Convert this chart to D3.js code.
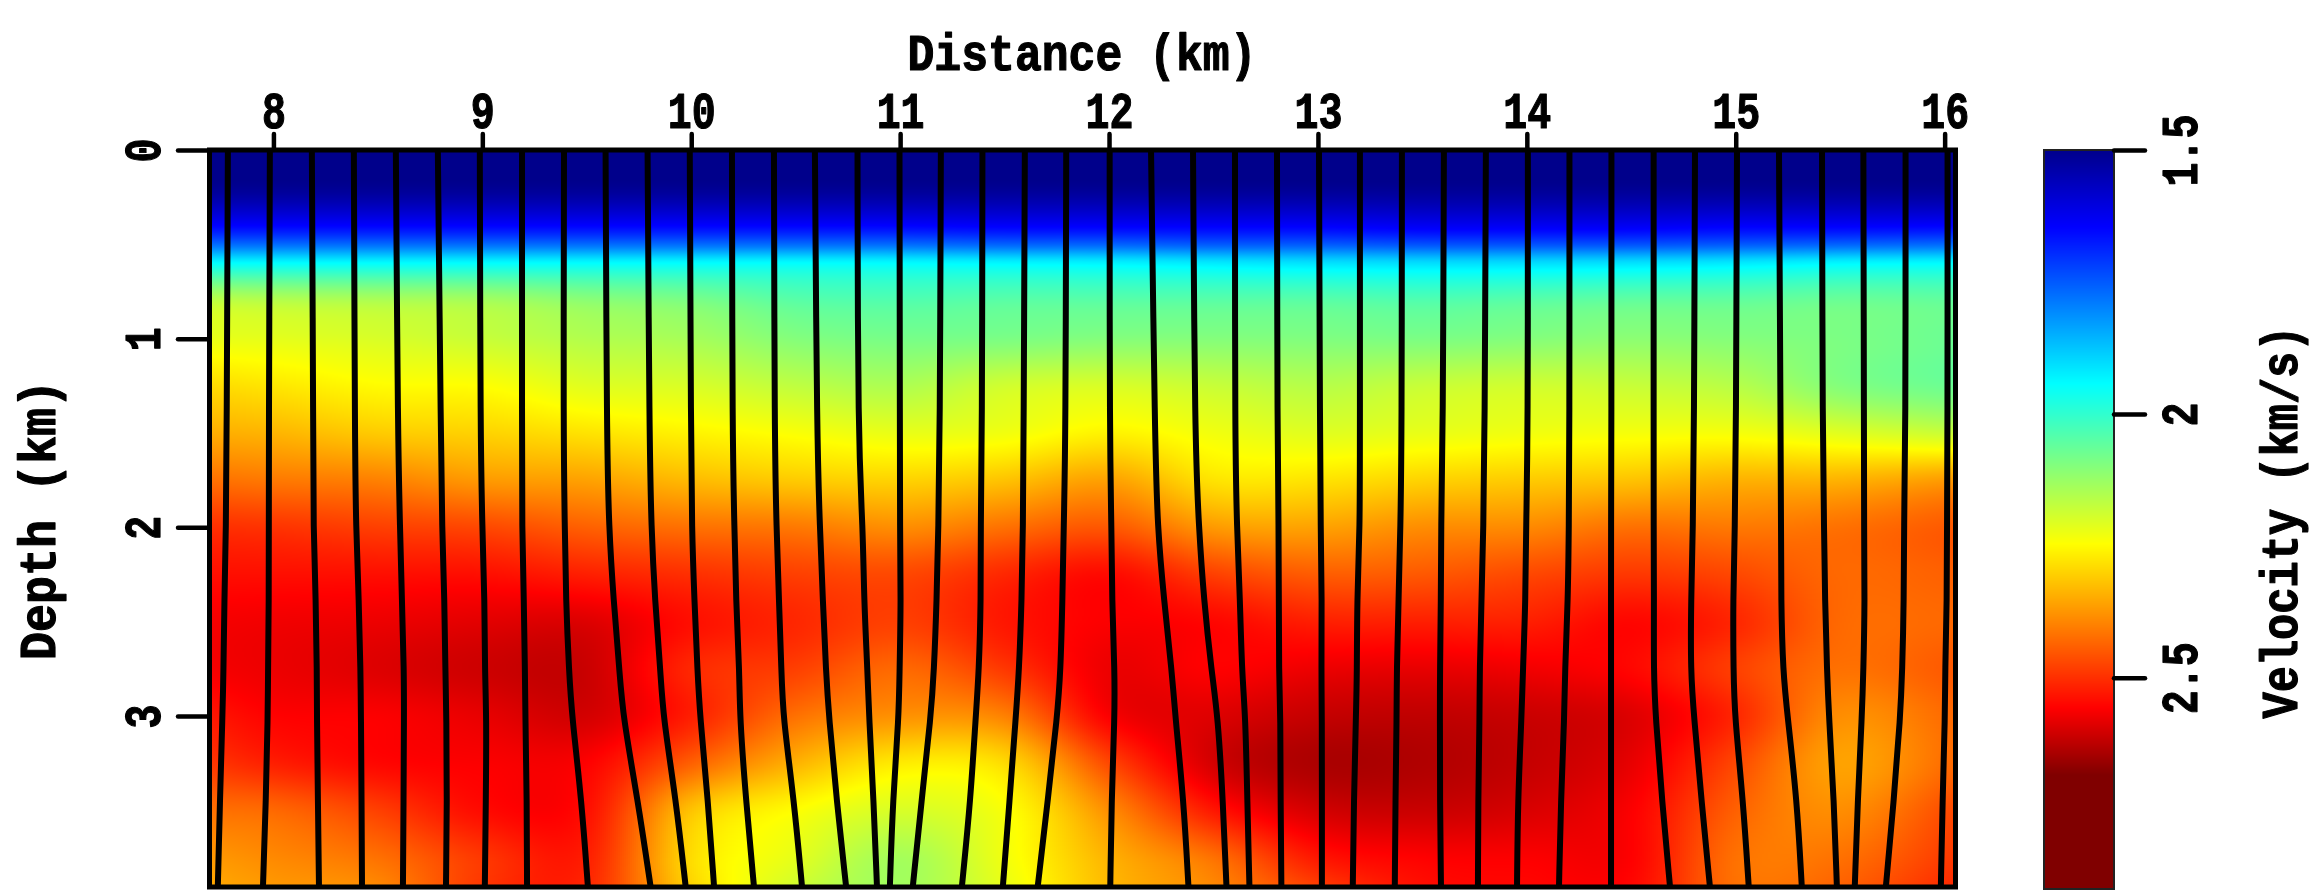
<!DOCTYPE html>
<html>
<head>
<meta charset="utf-8">
<script src="https://cdn.jsdelivr.net/npm/d3@7"></script>
<style>
  html, body { margin: 0; padding: 0; background: #fff; overflow: hidden; }
  #wrap { position: relative; width: 2324px; height: 892px; }
  canvas, svg { position: absolute; left: 0; top: 0; }
  text { font-family: "Liberation Mono", monospace; font-weight: bold; fill: #000; stroke: #000; stroke-width: 1.2; stroke-linejoin: round; }
</style>
</head>
<body>
<div id="wrap">
  <canvas id="heat" width="2324" height="892"></canvas>
  <svg id="chart" width="2324" height="892"></svg>
</div>
<script>
const xTicks = [8, 9, 10, 11, 12, 13, 14, 15, 16];
const depthTicks = [0, 1, 2, 3];
const velocityTicks = [1.5, 2, 2.5];

// colour bar stops, km/s
const colorValues = [1.5, 1.646, 1.943, 2.246, 2.557, 2.684, 2.9];
const colorStops = ["#00008b", "#0000ff", "#00ffff", "#ffff00", "#ff0000", "#800000", "#800000"];

// velocity model
const gridX = [7.694, 8, 8.5, 9, 9.5, 10, 10.5, 11, 11.5, 12, 12.5, 13, 13.5, 14, 14.5, 15, 15.5, 16.052];
const gridZ = [0, 0.2, 0.4, 0.5, 0.6, 0.8, 1, 1.25, 1.5, 1.75, 2, 2.25, 2.5, 2.75, 3, 3.25, 3.5, 3.75, 3.906];
const v00 = [1.5, 1.5, 1.5, 1.5, 1.5, 1.5, 1.5, 1.5, 1.5, 1.5, 1.5, 1.5, 1.5, 1.5, 1.5, 1.5, 1.5, 1.5];
const v02 = [1.51, 1.51, 1.51, 1.51, 1.51, 1.51, 1.51, 1.51, 1.51, 1.51, 1.51, 1.51, 1.51, 1.51, 1.51, 1.51, 1.51, 1.51];
const v04 = [1.646, 1.646, 1.646, 1.646, 1.646, 1.646, 1.646, 1.646, 1.64, 1.64, 1.64, 1.64, 1.63, 1.63, 1.63, 1.64, 1.64, 1.646];
const v05 = [1.77, 1.77, 1.77, 1.77, 1.77, 1.77, 1.77, 1.77, 1.76, 1.76, 1.75, 1.75, 1.74, 1.74, 1.74, 1.75, 1.76, 1.77];
const v06 = [1.943, 1.943, 1.943, 1.943, 1.943, 1.943, 1.943, 1.94, 1.935, 1.93, 1.92, 1.91, 1.905, 1.905, 1.91, 1.92, 1.935, 1.94];
const v08 = [2.17, 2.16, 2.15, 2.14, 2.11, 2.09, 2.05, 2.04, 2.05, 2.05, 2.05, 2.05, 2.04, 2.05, 2.06, 2.06, 2.07, 2.06];
const v10 = [2.22, 2.215, 2.2, 2.18, 2.155, 2.14, 2.1, 2.085, 2.09, 2.1, 2.1, 2.095, 2.09, 2.1, 2.11, 2.1, 2.09, 2.07];
const v125 = [2.29, 2.276, 2.25, 2.245, 2.21, 2.2, 2.17, 2.15, 2.19, 2.2, 2.18, 2.16, 2.18, 2.19, 2.18, 2.16, 2.1, 2.07];
const v15 = [2.345, 2.337, 2.31, 2.3, 2.28, 2.26, 2.24, 2.22, 2.23, 2.26, 2.23, 2.21, 2.22, 2.23, 2.235, 2.235, 2.21, 2.18];
const v175 = [2.42, 2.41, 2.4, 2.37, 2.36, 2.33, 2.31, 2.3, 2.32, 2.36, 2.28, 2.28, 2.3, 2.31, 2.32, 2.34, 2.34, 2.37];
const v20 = [2.5, 2.495, 2.48, 2.47, 2.44, 2.42, 2.41, 2.385, 2.42, 2.45, 2.37, 2.36, 2.385, 2.39, 2.42, 2.41, 2.42, 2.45];
const v225 = [2.54, 2.54, 2.54, 2.54, 2.52, 2.5, 2.48, 2.47, 2.51, 2.545, 2.48, 2.445, 2.45, 2.47, 2.49, 2.47, 2.43, 2.44];
const v25 = [2.565, 2.57, 2.575, 2.585, 2.59, 2.54, 2.51, 2.48, 2.53, 2.56, 2.55, 2.52, 2.52, 2.52, 2.55, 2.51, 2.43, 2.43];
const v275 = [2.565, 2.575, 2.59, 2.607, 2.61, 2.51, 2.48, 2.43, 2.49, 2.575, 2.557, 2.575, 2.58, 2.57, 2.55, 2.48, 2.42, 2.45];
const v30 = [2.53, 2.555, 2.56, 2.58, 2.6, 2.52, 2.42, 2.38, 2.4, 2.56, 2.59, 2.615, 2.62, 2.61, 2.59, 2.51, 2.385, 2.43];
const v325 = [2.49, 2.52, 2.55, 2.56, 2.557, 2.44, 2.34, 2.27, 2.29, 2.47, 2.6, 2.64, 2.635, 2.615, 2.58, 2.47, 2.36, 2.43];
const v35 = [2.42, 2.43, 2.48, 2.545, 2.54, 2.32, 2.246, 2.2, 2.24, 2.385, 2.53, 2.6, 2.61, 2.595, 2.56, 2.44, 2.385, 2.47];
const v375 = [2.37, 2.39, 2.42, 2.49, 2.52, 2.29, 2.215, 2.14, 2.23, 2.34, 2.42, 2.53, 2.557, 2.56, 2.557, 2.42, 2.42, 2.49];
const v39 = [2.35, 2.37, 2.39, 2.49, 2.51, 2.3, 2.19, 2.135, 2.22, 2.33, 2.39, 2.48, 2.54, 2.55, 2.55, 2.42, 2.44, 2.51];
const velocityRows = [v00, v02, v04, v05, v06, v08, v10, v125, v15, v175, v20, v225, v25, v275, v30, v325, v35, v375, v39];

// image ray positions (km) at each depth
const rayDepths = [0, 1.547, 2, 2.385, 2.766, 3, 3.445, 3.9];
const rayX0 = [7.782, 7.983, 8.184, 8.385, 8.586, 8.787, 8.988, 9.19, 9.391, 9.59, 9.791, 9.993, 10.195, 10.396, 10.592, 10.796, 10.997, 11.195, 11.394, 11.597, 11.795, 12.003, 12.201, 12.402, 12.603, 12.804, 13.005, 13.201, 13.402, 13.603, 13.804, 14.005, 14.204, 14.405, 14.607, 14.805, 15.006, 15.207, 15.413, 15.611, 15.813, 16.014];
const rayX1 = [7.776, 7.978, 8.191, 8.39, 8.596, 8.802, 8.991, 9.19, 9.388, 9.596, 9.8, 9.999, 10.197, 10.399, 10.602, 10.798, 10.999, 11.19, 11.392, 11.591, 11.792, 12.003, 12.22, 12.411, 12.603, 12.806, 13.01, 13.201, 13.401, 13.598, 13.798, 14.005, 14.204, 14.405, 14.607, 14.8, 15.001, 15.215, 15.416, 15.614, 15.813, 16.014];
const rayX2 = [7.773, 7.978, 8.191, 8.395, 8.606, 8.807, 9, 9.19, 9.395, 9.606, 9.809, 10.003, 10.207, 10.408, 10.616, 10.822, 10.999, 11.183, 11.385, 11.588, 11.783, 12.012, 12.232, 12.43, 12.612, 12.812, 13.013, 13.201, 13.395, 13.589, 13.792, 13.996, 14.201, 14.403, 14.607, 14.795, 14.996, 15.217, 15.423, 15.614, 15.805, 16.011];
const rayX3 = [7.765, 7.978, 8.203, 8.409, 8.615, 8.819, 9.011, 9.199, 9.4, 9.628, 9.826, 10.015, 10.214, 10.42, 10.63, 10.827, 11.004, 11.175, 11.387, 11.582, 11.777, 12.014, 12.263, 12.454, 12.627, 12.813, 13.019, 13.187, 13.386, 13.589, 13.783, 13.994, 14.197, 14.403, 14.609, 14.786, 14.987, 15.217, 15.427, 15.618, 15.805, 16.011];
const rayX4 = [7.761, 7.974, 8.208, 8.417, 8.625, 8.823, 9.012, 9.204, 9.415, 9.657, 9.853, 10.03, 10.231, 10.432, 10.645, 10.844, 10.997, 11.162, 11.377, 11.569, 11.768, 12.027, 12.301, 12.491, 12.636, 12.813, 13.016, 13.187, 13.377, 13.584, 13.774, 13.981, 14.182, 14.403, 14.607, 14.784, 14.989, 15.226, 15.437, 15.611, 15.797, 16.002];
const rayX5 = [7.756, 7.973, 8.208, 8.419, 8.625, 8.828, 9.02, 9.206, 9.429, 9.673, 9.865, 10.042, 10.232, 10.439, 10.659, 10.851, 10.994, 11.147, 11.362, 11.554, 11.752, 12.027, 12.317, 12.521, 12.653, 12.821, 13.019, 13.182, 13.377, 13.584, 13.774, 13.975, 14.18, 14.403, 14.616, 14.8, 14.995, 15.248, 15.446, 15.604, 15.788, 16.002];
const rayX6 = [7.744, 7.964, 8.213, 8.422, 8.623, 8.831, 9.017, 9.213, 9.475, 9.744, 9.927, 10.08, 10.262, 10.492, 10.696, 10.873, 10.965, 11.103, 11.337, 11.524, 11.707, 12.012, 12.357, 12.545, 12.662, 12.821, 13.019, 13.172, 13.371, 13.584, 13.767, 13.957, 14.163, 14.403, 14.647, 14.836, 15.035, 15.293, 15.47, 15.584, 15.757, 15.99];
const rayX7 = [7.734, 7.95, 8.218, 8.424, 8.62, 8.826, 9.012, 9.214, 9.505, 9.805, 9.973, 10.109, 10.3, 10.53, 10.741, 10.889, 10.951, 11.061, 11.296, 11.492, 11.659, 12.006, 12.38, 12.562, 12.672, 12.825, 13.019, 13.167, 13.368, 13.589, 13.766, 13.953, 14.154, 14.403, 14.685, 14.876, 15.062, 15.316, 15.484, 15.57, 15.719, 15.982];
const rayLevels = [rayX0, rayX1, rayX2, rayX3, rayX4, rayX5, rayX6, rayX7];

const x = d3.scaleLinear().domain([7.694, 16.052]).range([209.5, 1955.5]);
const y = d3.scaleLinear().domain([0, 3.906]).range([150, 887]);
const barY = d3.scaleLinear().domain([1.5, 2.9]).range([150, 889]);
const color = d3.scaleLinear().domain(colorValues).range(colorStops).clamp(true);

// hermite through the picked values so the model shows no grid creases
function slope(k, v, j) {
  const a = Math.max(j - 1, 0), b = Math.min(j + 1, k.length - 1);
  return (v[b] - v[a]) / (k[b] - k[a]);
}
function smooth(k, v, t) {
  const i = Math.min(Math.max(d3.bisectRight(k, t) - 1, 0), k.length - 2);
  const h = k[i + 1] - k[i], s = (t - k[i]) / h;
  const s2 = s * s, s3 = s2 * s;
  return (2 * s3 - 3 * s2 + 1) * v[i] + (s3 - 2 * s2 + s) * h * slope(k, v, i) +
    (-2 * s3 + 3 * s2) * v[i + 1] + (s3 - s2) * h * slope(k, v, i + 1);
}

const ctx = document.getElementById("heat").getContext("2d");
const columns = gridX.map((_, c) => velocityRows.map(r => r[c]));
const left = Math.round(x.range()[0]), right = Math.round(x.range()[1]);
const top_ = y.range()[0], bottom = y.range()[1];
for (let py = top_; py < bottom; py += 1) {
  const z = y.invert(py + 0.5);
  const row = columns.map(col => smooth(gridZ, col, z));
  for (let px = left; px < right; px += 2) {
    ctx.fillStyle = color(smooth(gridX, row, x.invert(px + 1)));
    ctx.fillRect(px, py, 2, 1);
  }
}
// colour bar
for (let py = 150; py < 889; py += 1) {
  ctx.fillStyle = color(barY.invert(py + 0.5));
  ctx.fillRect(2044, py, 70, 1);
}

const svg = d3.select("#chart");

const line = d3.line()
  .x(d => x(d.x))
  .y(d => y(d.z))
  .curve(d3.curveBasis);

svg.append("g")
  .attr("fill", "none")
  .attr("stroke", "#000")
  .attr("stroke-width", 6)
  .selectAll("path")
  .data(rayX0.map((_, i) => rayDepths.map((z, l) => ({ x: rayLevels[l][i], z }))))
  .join("path")
  .attr("d", line);

svg.append("rect")
  .attr("x", 209.5).attr("y", 150).attr("width", 1746).attr("height", 737)
  .attr("fill", "none").attr("stroke", "#000").attr("stroke-width", 5);
svg.append("rect")
  .attr("x", 2044).attr("y", 150).attr("width", 70).attr("height", 739)
  .attr("fill", "none").attr("stroke", "#222").attr("stroke-width", 2);

function styleAxis(g, labelSize) {
  g.select(".domain").remove();
  g.selectAll(".tick line")
    .attr("stroke", "#000")
    .attr("stroke-width", 4.5)
    .attr("stroke-linecap", "round");
  g.selectAll(".tick text")
    .style("font-size", labelSize + "px")
    .attr("lengthAdjust", "spacingAndGlyphs")
    .attr("textLength", function () { return this.textContent.length * 24; });
}

// top axis
svg.append("g")
  .attr("transform", "translate(0,150)")
  .call(d3.axisTop(x).tickValues(xTicks).tickSize(16).tickPadding(6).tickFormat(d3.format("d")))
  .call(styleAxis, 52);

// depth axis, labels turned along the axis
const leftAxis = svg.append("g")
  .attr("transform", "translate(209,0)")
  .call(d3.axisLeft(y).tickValues(depthTicks).tickSize(31).tickFormat(d3.format("d")))
  .call(styleAxis, 52);
leftAxis.selectAll(".tick text")
  .attr("text-anchor", "middle")
  .attr("dy", 0)
  .attr("x", 0)
  .attr("y", 0)
  .attr("transform", "translate(-49,0) rotate(-90)");

// colour bar axis
const barAxis = svg.append("g")
  .attr("transform", "translate(2114,0)")
  .call(d3.axisRight(barY).tickValues(velocityTicks).tickSize(31).tickFormat(d => d))
  .call(styleAxis, 52);
barAxis.selectAll(".tick text")
  .attr("text-anchor", "middle")
  .attr("dy", 0)
  .attr("x", 0)
  .attr("y", 0)
  .attr("transform", "translate(83,0) rotate(-90)");

function title(label, px, py, width, angle) {
  svg.append("text")
    .attr("transform", `translate(${px},${py}) rotate(${angle})`)
    .attr("text-anchor", "middle")
    .attr("lengthAdjust", "spacingAndGlyphs")
    .attr("textLength", width)
    .style("font-size", "52px")
    .text(label);
}
title("Distance (km)", 1082, 70, 349, 0);
title("Depth (km)", 55, 520, 280, -90);
title("Velocity (km/s)", 2297, 522, 393, -90);
</script>
</body>
</html>
